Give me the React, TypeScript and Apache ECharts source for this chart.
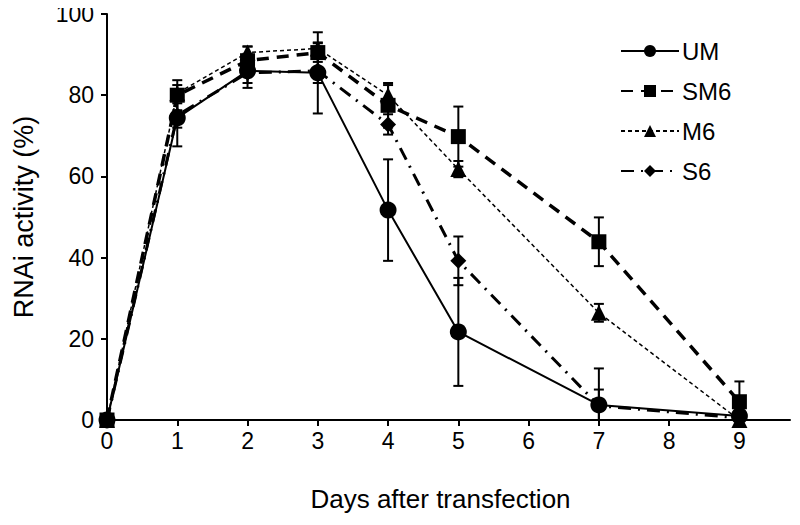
import React, { useEffect, useRef } from "react";
import * as echarts from "echarts";

const days = [0, 1, 2, 3, 4, 5, 7, 9];
const xTicks = [0, 1, 2, 3, 4, 5, 6, 7, 8, 9];
const umValues = [0, 74.4, 86, 85.5, 51.7, 21.7, 3.7, 1];
const umErr = [0, 7, 4.2, 10, 12.5, 13.3, 9, 0];
const sm6Values = [0, 80, 88.5, 90.5, 77.5, 69.8, 43.9, 4.5];
const sm6Err = [0, 3.7, 3.5, 2.3, 5.5, 7.4, 6, 5];
const m6Values = [0, 80.5, 90.5, 91.5, 80, 61.8, 26.4, 0];
const m6Err = [0, 2, 1.5, 1.5, 2.5, 2, 2.2, 0];
const s6Values = [0, 75, 85.5, 86, 72.8, 39.2, 3.5, 0.5];
const s6Err = [0, 3, 2.5, 3, 2.5, 6, 4, 0.5];

const FONT = "'Liberation Sans', Arial, sans-serif";

function errData(vals: number[], errs: number[]) {
  return days.map((d, i) => [d, Math.max(0, vals[i] - errs[i]), vals[i] + errs[i]]);
}

function errSeries(vals: number[], errs: number[]) {
  return {
    type: "custom",
    silent: true,
    clip: true,
    z: 1,
    data: errData(vals, errs),
    renderItem: (params: any, api: any) => {
      const x = api.value(0);
      const lo = api.coord([x, api.value(1)]);
      const hi = api.coord([x, api.value(2)]);
      const w = 5;
      const style = { stroke: "#000", lineWidth: 2 };
      return {
        type: "group",
        children: [
          { type: "line", shape: { x1: lo[0], y1: lo[1], x2: hi[0], y2: hi[1] }, style },
          { type: "line", shape: { x1: hi[0] - w, y1: hi[1], x2: hi[0] + w, y2: hi[1] }, style },
          { type: "line", shape: { x1: lo[0] - w, y1: lo[1], x2: lo[0] + w, y2: lo[1] }, style },
        ],
      };
    },
  };
}

function lineSeries(name: string, vals: number[], symbol: string, size: number, lineStyle: any) {
  return {
    name,
    type: "line",
    data: days.map((d, i) => [d, vals[i]]),
    symbol,
    symbolSize: size,
    showAllSymbol: true,
    itemStyle: { color: "#000", borderWidth: 0 },
    lineStyle: { color: "#000", ...lineStyle },
    z: 3,
  };
}

export default function App() {
  const ref = useRef<HTMLDivElement>(null);
  useEffect(() => {
    if (!ref.current) return;
    const chart = echarts.init(ref.current, null, { renderer: "svg" });
    chart.setOption({
      animation: false,
      backgroundColor: "#fff",
      grid: { left: 107, right: 10, top: 14, bottom: 105, containLabel: false },
      legend: {
        orient: "vertical",
        left: 615,
        top: 33,
        itemWidth: 58,
        itemHeight: 15,
        itemGap: 14,
        data: ["UM", "SM6", "M6", "S6"],
        textStyle: { fontFamily: FONT, fontSize: 24, color: "#000", lineHeight: 26, padding: [0, 0, 0, -2] },
      },
      xAxis: {
        type: "value",
        min: 0,
        max: 9.72,
        interval: 1,
        splitLine: { show: false },
        axisLine: { lineStyle: { color: "#000", width: 2 } },
        axisTick: { length: 6, lineStyle: { color: "#000", width: 2 }, customValues: xTicks },
        axisLabel: {
          customValues: xTicks,
          color: "#000",
          fontFamily: FONT,
          fontSize: 23,
          margin: 9,
        },
        name: "Days after transfection",
        nameLocation: "middle",
        nameGap: 66,
        nameTextStyle: { fontFamily: FONT, fontSize: 26, color: "#000", padding: [0, 16, 0, 0] },
      },
      yAxis: {
        type: "value",
        min: 0,
        max: 100,
        interval: 20,
        splitLine: { show: false },
        axisLine: { show: true, lineStyle: { color: "#000", width: 2 } },
        axisTick: { show: true, length: 6, lineStyle: { color: "#000", width: 2 } },
        axisLabel: { color: "#000", fontFamily: FONT, fontSize: 23, margin: 13 },
        name: "RNAi activity (%)",
        nameLocation: "middle",
        nameGap: 70,
        nameTextStyle: { fontFamily: FONT, fontSize: 27, color: "#000" },
      },
      series: [
        errSeries(umValues, umErr),
        errSeries(sm6Values, sm6Err),
        errSeries(m6Values, m6Err),
        errSeries(s6Values, s6Err),
        lineSeries("UM", umValues, "circle", 17, { width: 2, type: "solid" }),
        lineSeries("SM6", sm6Values, "rect", 15, { width: 3.5, type: [12, 8] }),
        lineSeries("M6", m6Values, "triangle", 16, { width: 1.5, type: [4, 3] }),
        lineSeries("S6", s6Values, "diamond", 16, { width: 3, type: [13, 7, 2, 7] }),
      ],
    });
    return () => chart.dispose();
  }, []);
  return <div ref={ref} style={{ width: 800, height: 525, margin: -8 }} />;
}
